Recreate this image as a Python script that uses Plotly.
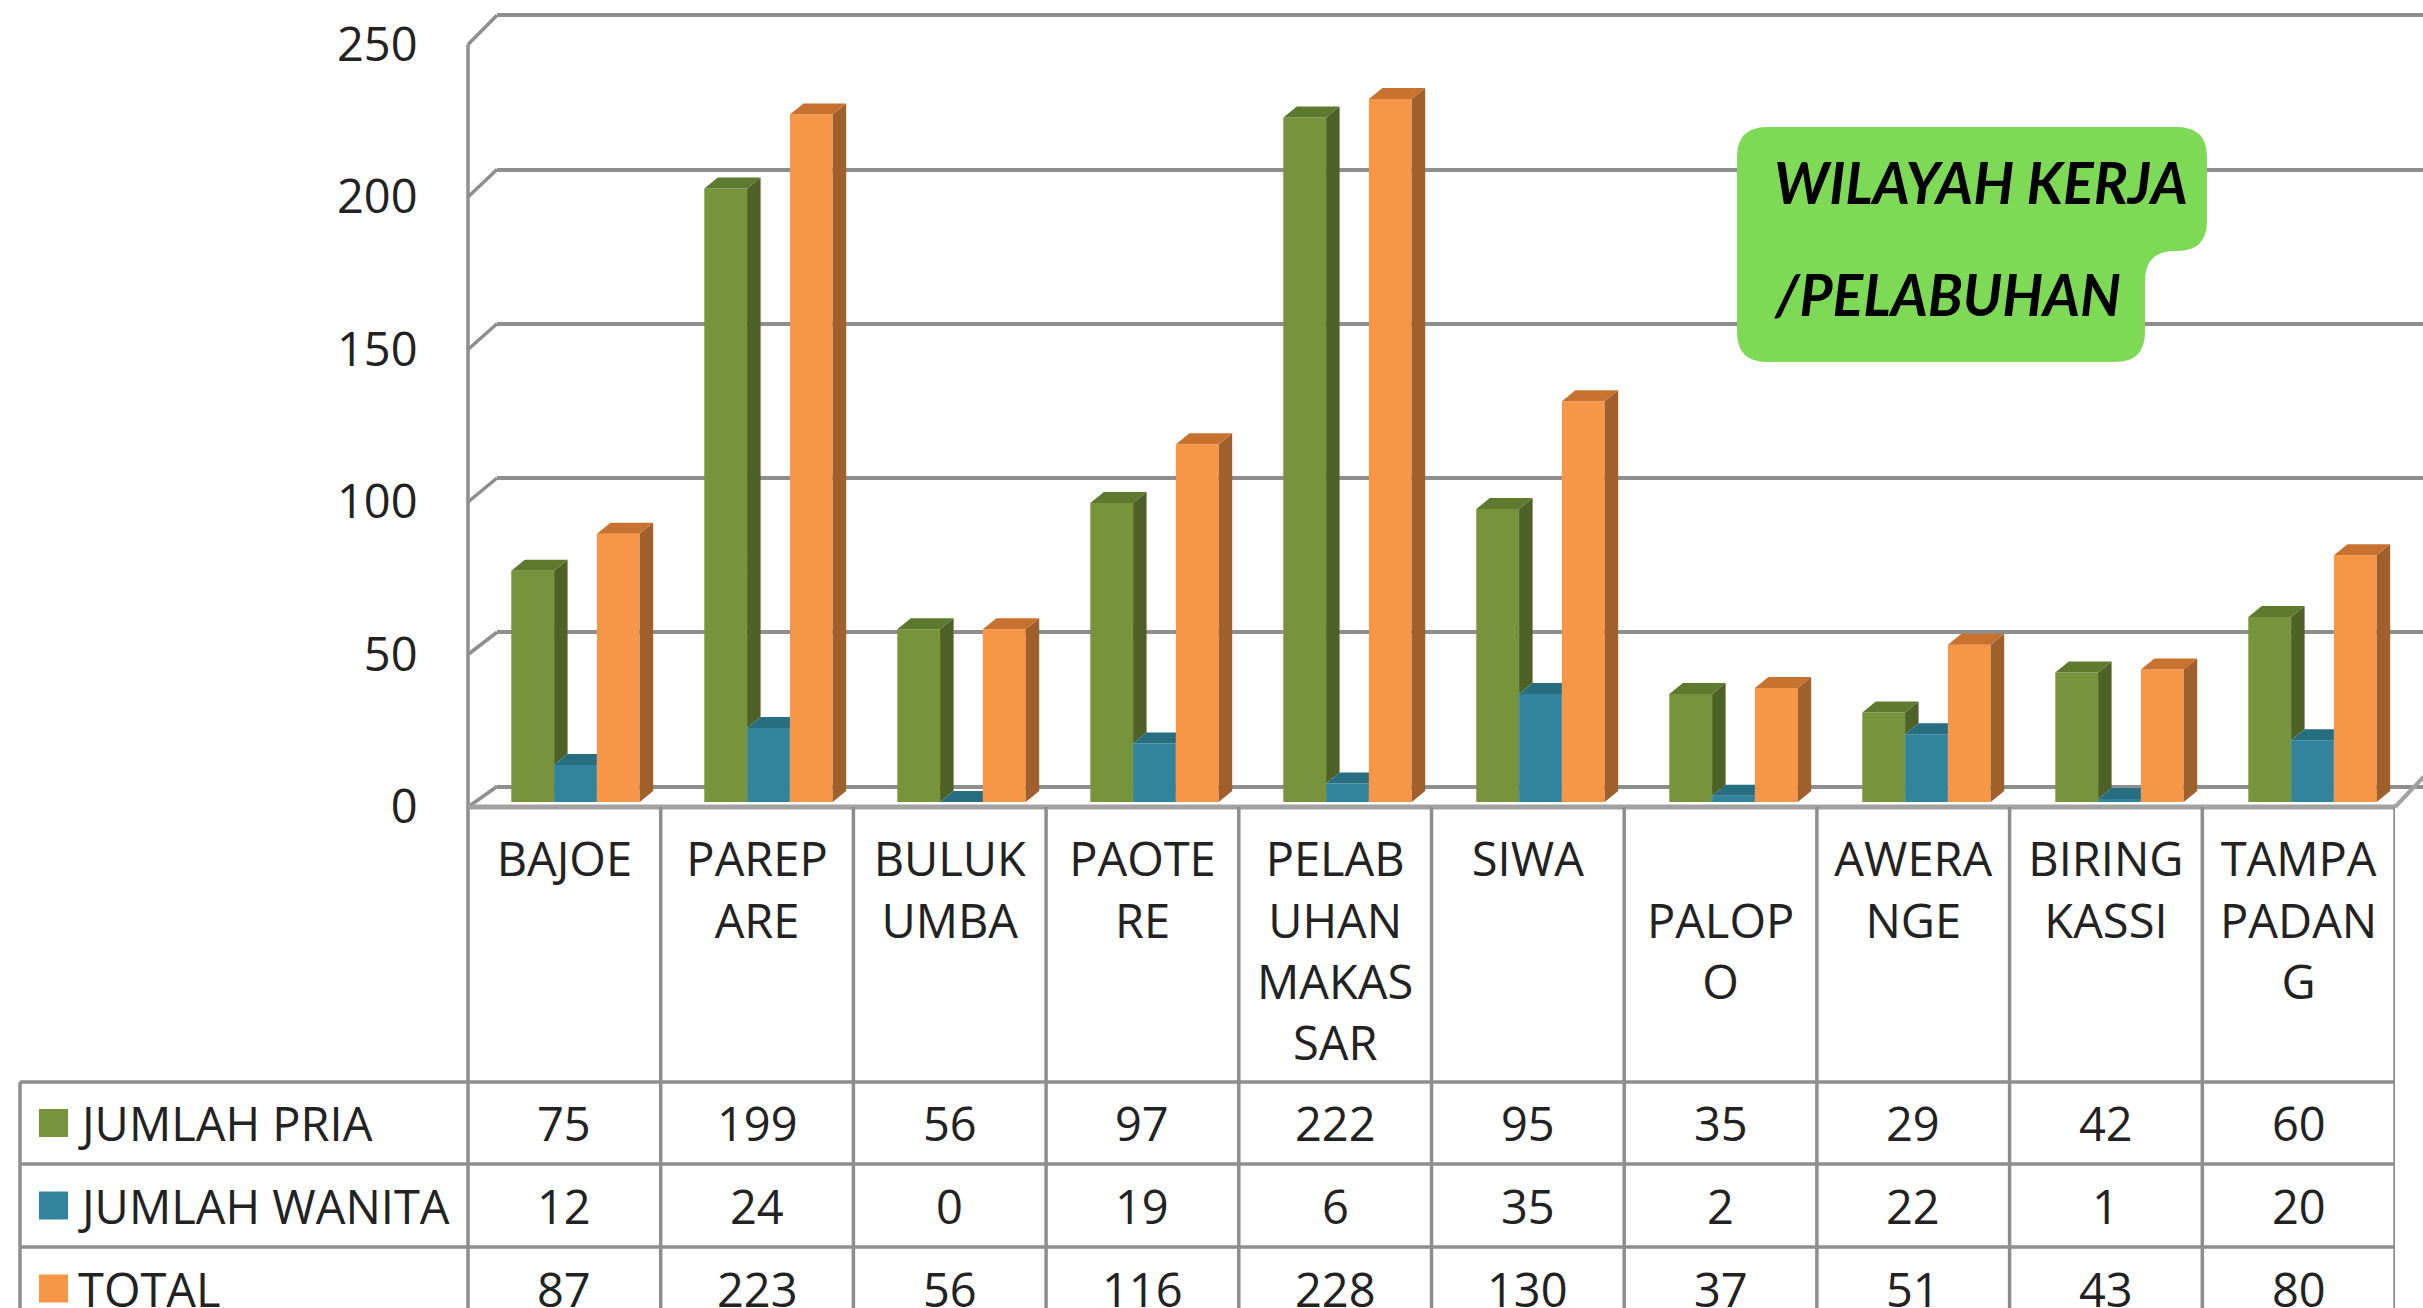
import plotly.graph_objects as go

W, H = 2423, 1308

# ---------------- data ----------------
categories = ["BAJOE", "PAREPARE", "BULUKUMBA", "PAOTERE", "PELABUHAN MAKASSAR",
              "SIWA", "PALOPO", "AWERANGE", "BIRINGKASSI", "TAMPAPADANG"]
category_ticktext = ["BAJOE", "PAREP<br>ARE", "BULUK<br>UMBA", "PAOTE<br>RE",
                     "PELAB<br>UHAN<br>MAKAS<br>SAR", "SIWA", "\u00a0<br>PALOP<br>O",
                     "AWERA<br>NGE", "BIRING<br>KASSI", "TAMPA<br>PADAN<br>G"]
series_names = ["JUMLAH PRIA", "JUMLAH WANITA", "TOTAL"]
jumlah_pria = [75, 199, 56, 97, 222, 95, 35, 29, 42, 60]
jumlah_wanita = [12, 24, 0, 19, 6, 35, 2, 22, 1, 20]
total = [87, 223, 56, 116, 228, 130, 37, 51, 43, 80]
y_ticks = [0, 50, 100, 150, 200, 250]
title_lines = ["WILAYAH KERJA", "/PELABUHAN"]

# ---------------- styles ----------------
front_colors = ["#77933C", "#31849B", "#F79646"]
side_colors = ["#4E6228", "#215A68", "#A0602B"]
top_colors = ["#5E7A2F", "#276E80", "#C8722F"]
grid_color = "#8E8E8E"
text_color = "#222222"
FONT = "Open Sans"
FS = 47

series = [jumlah_pria, jumlah_wanita, total]
idx = list(range(len(categories)))


def px(x):
    return x / W


def py(y):
    return 1 - y / H


# geometry (pixels)
DOM_TOP, DOM_BOT = 10, 805          # shared y domain of the 3D plot area
X_LEFT = 497                        # back-wall left edge
CAT0, PITCH = 575.5, 193.0          # bar-group centre of first category, pitch
BAR_P0, BAR_S = 802.0, 3.083        # bars: pixel of 0, px per unit
GRID_P0, GRID_S = 786.5, 3.085      # back wall gridlines
FRONT_P0, FRONT_S = 807.0, 3.05     # front edge / tick labels
TBL_L, TBL_R = 468.0, 2395.0
ROW_Y = [1082, 1164, 1247, 1330]

bar_w = 42.8 / PITCH
dx = 13.5 / PITCH
dy = 11.0 / BAR_S

fig = go.Figure()

# front faces
for i, vals in enumerate(series):
    fig.add_trace(go.Bar(
        x=idx, y=vals, name=series_names[i],
        width=bar_w, offset=-1.5 * bar_w + i * bar_w,
        marker=dict(color=front_colors[i], line=dict(width=0)),
        hoverinfo="skip", xaxis="x", yaxis="y"))

# side and top faces (computed from the data)
for i, vals in enumerate(series):
    nxt = series[i + 1] if i + 1 < len(series) else None
    sx, sy, tx, ty = [], [], [], []
    for k in idx:
        v = vals[k]
        xl = k - 1.5 * bar_w + i * bar_w
        xr = xl + bar_w
        vn = nxt[k] if nxt is not None else 0
        base = vn if nxt is not None else 0
        if base < v:
            sx += [xr, xr + dx, xr + dx, xr, xr, None]
            sy += [base, base + dy, v + dy, v, base, None]
        if nxt is not None and vn > v:
            tx += [xl, xl + dx, xr, xr, xl, None]
            ty += [v, v + dy, v + dy, v, v, None]
        else:
            tx += [xl, xl + dx, xr + dx, xr, xl, None]
            ty += [v, v + dy, v + dy, v, v, None]
    fig.add_trace(go.Scatter(x=sx, y=sy, mode="lines", fill="toself",
                             fillcolor=side_colors[i], line=dict(width=0),
                             hoverinfo="skip", xaxis="x", yaxis="y"))
    fig.add_trace(go.Scatter(x=tx, y=ty, mode="lines", fill="toself",
                             fillcolor=top_colors[i], line=dict(width=0),
                             hoverinfo="skip", xaxis="x", yaxis="y"))

# invisible trace so that the back-wall grid axis is drawn
fig.add_trace(go.Scatter(x=[None], y=[None], mode="markers", hoverinfo="skip",
                         xaxis="x", yaxis="y2"))

# ---------------- axes ----------------
ydom = [py(DOM_BOT), py(DOM_TOP)]
fig.update_layout(
    template="none",
    width=W, height=H,
    margin=dict(l=0, r=0, t=0, b=0, pad=0, autoexpand=False),
    paper_bgcolor="white", plot_bgcolor="rgba(0,0,0,0)",
    showlegend=False,
    xaxis=dict(domain=[px(X_LEFT), 1], automargin=False,
               range=[(X_LEFT - CAT0) / PITCH, (W - CAT0) / PITCH],
               showgrid=False, zeroline=False, showline=False,
               showticklabels=False, ticks=""),
    yaxis=dict(domain=ydom, anchor="x", automargin=False,
               range=[(BAR_P0 - DOM_BOT) / BAR_S, (BAR_P0 - DOM_TOP) / BAR_S],
               showgrid=False, zeroline=False, showline=False,
               showticklabels=False, ticks=""),
    yaxis2=dict(overlaying="y", anchor="x", automargin=False,
                range=[(GRID_P0 - DOM_BOT) / GRID_S, (GRID_P0 - DOM_TOP) / GRID_S],
                tickvals=y_ticks, showgrid=True, gridcolor=grid_color, gridwidth=3.5,
                zeroline=False, showline=False, showticklabels=False, ticks=""),
    xaxis3=dict(domain=[px(TBL_L), px(TBL_R)], range=[-0.5, len(categories) - 0.5],
                anchor="y3", automargin=False, tickvals=idx, ticktext=category_ticktext,
                tickfont=dict(family=FONT, size=FS, color=text_color),
                ticks="outside", ticklen=8, tickcolor="rgba(0,0,0,0)",
                showgrid=False, zeroline=False, showline=False),
    yaxis3=dict(domain=[py(FRONT_P0 + 4), py(30)], anchor="x3", automargin=False,
                range=[-4 / FRONT_S, (FRONT_P0 - 30) / FRONT_S],
                tickvals=y_ticks, ticktext=[str(t) for t in y_ticks],
                tickfont=dict(family=FONT, size=FS, color=text_color),
                ticks="outside", ticklen=40, tickcolor="rgba(0,0,0,0)",
                showgrid=False, zeroline=False, showline=False),
)

shapes = []
line_style = dict(color=grid_color, width=3.5)

# front vertical edge of the wall, continuing as table border
shapes.append(dict(type="line", xref="paper", yref="paper",
                   x0=px(TBL_L), x1=px(TBL_L),
                   y0=py(FRONT_P0 - 250 * FRONT_S), y1=py(H), line=line_style))
# diagonals connecting front edge with back-wall gridlines
for v in y_ticks:
    shapes.append(dict(type="line", xref="paper", yref="paper",
                       x0=px(TBL_L), y0=py(FRONT_P0 - v * FRONT_S),
                       x1=px(X_LEFT), y1=py(GRID_P0 - v * GRID_S), line=line_style))
# floor front edge
shapes.append(dict(type="line", xref="paper", yref="paper",
                   x0=px(TBL_L), x1=px(TBL_R), y0=py(FRONT_P0), y1=py(FRONT_P0),
                   line=dict(color="#A2A2A2", width=5)))
shapes.append(dict(type="line", xref="paper", yref="paper",
                   x0=px(TBL_R), x1=px(TBL_R + 29), y0=py(FRONT_P0), y1=py(GRID_P0 - 10),
                   line=dict(color="#A2A2A2", width=4)))

# table: vertical lines
for k in range(1, len(categories) + 1):
    shapes.append(dict(type="line", xref="x3", yref="paper",
                       x0=k - 0.5, x1=k - 0.5, y0=py(FRONT_P0), y1=py(H),
                       line=line_style))
# table: left border and row lines
shapes.append(dict(type="line", xref="paper", yref="paper",
                   x0=px(20), x1=px(20), y0=py(ROW_Y[0]), y1=py(H), line=line_style))
for yy in ROW_Y[:3]:
    shapes.append(dict(type="line", xref="paper", yref="paper",
                       x0=px(20), x1=px(TBL_R), y0=py(yy), y1=py(yy), line=line_style))

# legend keys
for i in range(3):
    cy = (ROW_Y[i] + ROW_Y[i + 1]) / 2
    shapes.append(dict(type="rect", xref="paper", yref="paper",
                       x0=px(39), x1=px(68), y0=py(cy - 14), y1=py(cy + 14),
                       fillcolor=front_colors[i], line=dict(width=0)))

# title box (rounded with notch)
r = 30
L, R1, R2, T, M, B = 1737, 2207, 2145, 127, 251, 362
pts = [
    ("M", L + r, T), ("L", R1 - r, T), ("Q", R1, T, R1, T + r),
    ("L", R1, M - r), ("Q", R1, M, R1 - r, M),
    ("L", R2 + r, M), ("Q", R2, M, R2, M + r),
    ("L", R2, B - r), ("Q", R2, B, R2 - r, B),
    ("L", L + r, B), ("Q", L, B, L, B - r),
    ("L", L, T + r), ("Q", L, T, L + r, T),
]
path = ""
for p in pts:
    cmd, coords = p[0], p[1:]
    conv = []
    for j in range(0, len(coords), 2):
        conv.append(f"{px(coords[j]):.5f},{py(coords[j + 1]):.5f}")
    path += cmd + " " + " ".join(conv) + " "
path += "Z"
shapes.append(dict(type="path", xref="paper", yref="paper", path=path,
                   fillcolor="#7ED957", line=dict(width=0), layer="above"))

fig.update_layout(shapes=shapes)

annotations = []
# table row labels and values
for i, vals in enumerate(series):
    cy = (ROW_Y[i] + ROW_Y[i + 1]) / 2
    annotations.append(dict(xref="paper", yref="paper", x=px(76), y=py(cy),
                            text=series_names[i], showarrow=False,
                            xanchor="left", yanchor="middle",
                            font=dict(family=FONT, size=FS, color=text_color)))
    for k in idx:
        annotations.append(dict(xref="x3", yref="paper", x=k, y=py(cy),
                                text=str(vals[k]), showarrow=False,
                                xanchor="center", yanchor="middle",
                                font=dict(family=FONT, size=FS, color=text_color)))
# title text
for j, (t, ycen) in enumerate(zip(title_lines, [182, 294])):
    annotations.append(dict(xref="paper", yref="paper", x=px(1772), y=py(ycen),
                            text=f"<b><i>{t}</i></b>", showarrow=False,
                            xanchor="left", yanchor="middle",
                            font=dict(family="Lato", size=57, color="black")))
fig.update_layout(annotations=annotations)

fig.write_html("out.html", config={"displayModeBar": False},
               post_script="document.body.style.margin='0px';")
